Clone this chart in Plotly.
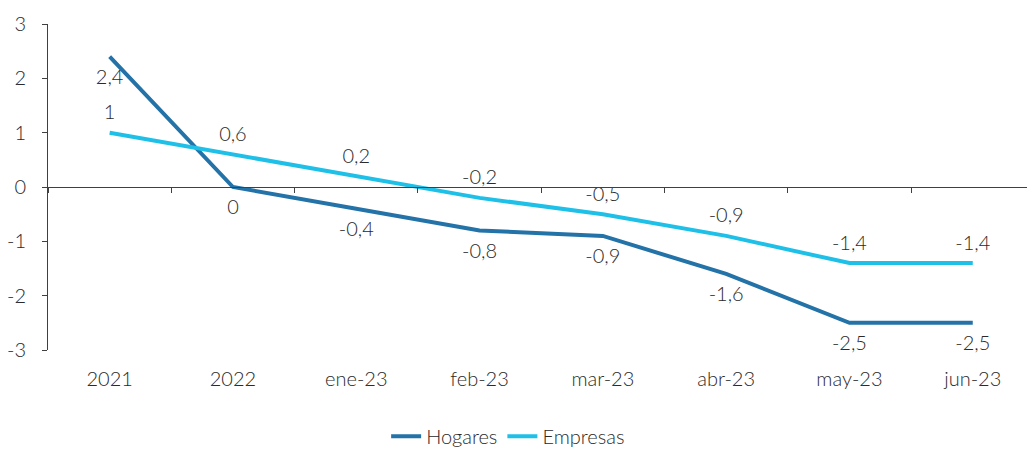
import plotly.graph_objects as go

categories = ["2021", "2022", "ene-23", "feb-23", "mar-23", "abr-23", "may-23", "jun-23"]
hogares = [2.4, 0, -0.4, -0.8, -0.9, -1.6, -2.5, -2.5]
empresas = [1, 0.6, 0.2, -0.2, -0.5, -0.9, -1.4, -1.4]

C_HOG = "#2372a8"
C_EMP = "#1ec0e8"
FONT = "Lato"
TXT = "#2a2a2a"
FS = 20


def fmt(v):
    return f"{v:g}".replace(".", ",")


x_idx = list(range(len(categories)))

fig = go.Figure()
# transparent markers push the value labels away from the lines
fig.add_trace(go.Scatter(
    x=x_idx, y=hogares, name="Hogares", mode="lines+markers+text",
    line=dict(color=C_HOG, width=4), marker=dict(size=18, color="rgba(0,0,0,0)"),
    text=[fmt(v) for v in hogares], textposition="bottom center", cliponaxis=False,
    textfont=dict(family=FONT, size=FS, color=TXT, weight=300),
))
fig.add_trace(go.Scatter(
    x=x_idx, y=empresas, name="Empresas", mode="lines+markers+text",
    line=dict(color=C_EMP, width=4), marker=dict(size=12, color="rgba(0,0,0,0)"),
    text=[fmt(v) for v in empresas], textposition="top center", cliponaxis=False,
    textfont=dict(family=FONT, size=FS, color=TXT, weight=300),
))
# invisible trace carrying the secondary x-axis drawn through y = 0
fig.add_trace(go.Scatter(x=[-0.5, 7.5], y=[0, 0], xaxis="x2", mode="lines",
                         line=dict(width=0), showlegend=False, hoverinfo="skip"))

x_range = [-0.5, 7.44]
fig.update_layout(
    width=1027, height=450,
    margin=dict(l=48, r=0, t=24, b=100, autoexpand=False),
    paper_bgcolor="white", plot_bgcolor="white",
    font=dict(family=FONT, size=FS, color=TXT, weight=300),
    showlegend=True,
    legend=dict(orientation="h", x=0.47, xanchor="center", y=-0.205, yanchor="top",
                font=dict(family=FONT, size=FS, color=TXT, weight=300),
                itemwidth=30, tracegroupgap=0),
    xaxis=dict(range=x_range, tickmode="array", tickvals=x_idx, ticktext=categories,
               showgrid=False, zeroline=False, showline=False, ticks="",
               ticklabelstandoff=15, automargin=False),
    xaxis2=dict(range=x_range, overlaying="x", anchor="free", position=0.5,
                tickmode="array", tickvals=[i - 0.5 for i in x_idx] + [7.5],
                showticklabels=False, ticks="outside", ticklen=5, tickcolor="#404040",
                showline=True, linecolor="#404040", linewidth=1,
                showgrid=False, zeroline=False, automargin=False),
    yaxis=dict(range=[-3, 3], tickmode="array", tickvals=[-3, -2, -1, 0, 1, 2, 3],
               ticktext=["-3", "-2", "-1", "0", "1", "2", "3"],
               showgrid=False, zeroline=False, showline=True, linecolor="#404040",
               linewidth=1, ticks="outside", ticklen=5, tickcolor="#404040",
               ticklabelstandoff=12, automargin=False),
)

fig.write_html("out.html")
